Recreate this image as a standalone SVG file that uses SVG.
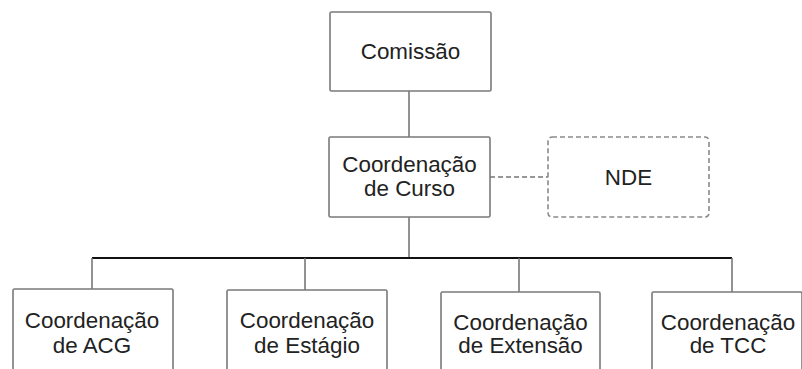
<svg xmlns="http://www.w3.org/2000/svg" width="802" height="369" viewBox="0 0 802 369">
<style>
.box{fill:#fff;stroke:#7a7a7a;stroke-width:1.6}
.dash{fill:#fff;stroke:#8a8a8a;stroke-width:1.6;stroke-dasharray:5,3}
.t{font-family:"Liberation Sans",Arial,sans-serif;font-size:22.4px;fill:#222;text-anchor:middle}
.ln{stroke:#777;stroke-width:1.6;fill:none}
.bar{stroke:#111;stroke-width:1.8;fill:none}
.dl{stroke:#777;stroke-width:1.6;stroke-dasharray:5,3;fill:none}
</style>
<rect width="802" height="369" fill="#fff"/>
<g id="connectors">
<line class="ln" x1="409" y1="91" x2="409" y2="137"/>
<line class="ln" x1="409" y1="217" x2="409" y2="258"/>
<line class="dl" x1="490" y1="177" x2="548" y2="177"/>
<line class="bar" x1="92" y1="258" x2="732" y2="258"/>
<line class="ln" x1="92" y1="258" x2="92" y2="289"/>
<line class="ln" x1="305" y1="258" x2="305" y2="290"/>
<line class="ln" x1="519" y1="258" x2="519" y2="292"/>
<line class="ln" x1="732" y1="258" x2="732" y2="292"/>
</g>
<g id="comissao">
<rect class="box" x="330" y="12" width="161" height="79" rx="1.5"/>
<text class="t" x="410.5" y="59">Comissão</text>
</g>
<g id="coord-curso">
<rect class="box" x="329" y="137" width="161" height="80" rx="1.5"/>
<text class="t" x="409.5" y="172">Coordenação</text>
<text class="t" x="409.5" y="196">de Curso</text>
</g>
<g id="nde">
<rect class="dash" x="548" y="137" width="161" height="80" rx="4"/>
<text class="t" x="628.5" y="185">NDE</text>
</g>
<g id="coord-acg">
<rect class="box" x="13" y="289" width="160" height="90" rx="1.5"/>
<text class="t" x="92" y="328">Coordenação</text>
<text class="t" x="92" y="353">de ACG</text>
</g>
<g id="coord-estagio">
<rect class="box" x="227" y="290" width="160" height="90" rx="1.5"/>
<text class="t" x="307" y="328">Coordenação</text>
<text class="t" x="307" y="353">de Estágio</text>
</g>
<g id="coord-extensao">
<rect class="box" x="441" y="292" width="159" height="90" rx="1.5"/>
<text class="t" x="520.5" y="330">Coordenação</text>
<text class="t" x="520.5" y="353">de Extensão</text>
</g>
<g id="coord-tcc">
<rect class="box" x="652" y="292" width="150" height="90" rx="1.5"/>
<text class="t" x="728" y="330">Coordenação</text>
<text class="t" x="728" y="353">de TCC</text>
</g>
</svg>
